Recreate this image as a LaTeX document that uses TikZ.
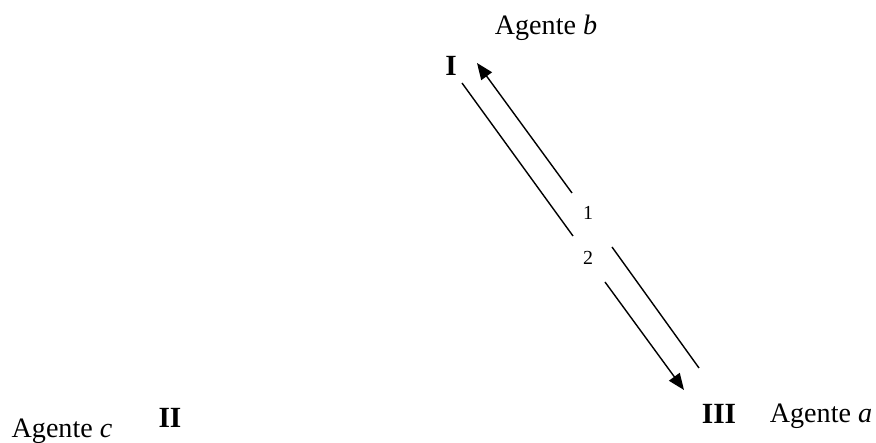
\documentclass[tikz,border=0pt]{standalone}
\usepackage{fontspec}
\setmainfont{Liberation Serif}
\usetikzlibrary{arrows.meta}

\tikzset{
  agent/.style={inner sep=0pt,font=\fontsize{12}{14}\selectfont},
  roman/.style={inner sep=0pt,font=\fontsize{12.5}{14}\selectfont\bfseries},
  step label/.style={inner sep=0pt,font=\fontsize{8.5}{10}\selectfont},
  msg/.style={line width=0.6pt}
}

\begin{document}
\begin{tikzpicture}[x=0.015cm,y=-0.015cm,>={Triangle[length=7pt,width=5.6pt]}]
  \useasboundingbox (0,0) rectangle (876,443);
  % the three agents and their positions
  \node[agent] (agb) at (546,28) {Agente \textit{b}};
  \node[roman] (posI) at (451,66) {I};
  \node[roman] (posII) at (170,418) {II};
  \node[agent] (agc) at (62,431) {Agente \textit{c}};
  \node[roman] (posIII) at (719,414) {III};
  \node[agent] (aga) at (821,416) {Agente \textit{a}};
  % message numbers in the gap of the two lines
  \node[step label] (m1) at (588,213) {1};
  \node[step label] (m2) at (588,258) {2};
  % end points of the two broken lines
  \coordinate (o1) at (699,368);
  \coordinate (g1a) at (612,247);
  \coordinate (g1b) at (572,193);
  \coordinate (e1) at (477,63);
  \coordinate (o2) at (462,83);
  \coordinate (g2a) at (573,236);
  \coordinate (g2b) at (605,282);
  \coordinate (e2) at (684,390);
  % message 1: from III up to I
  \draw[msg] (o1) -- (g1a);
  \draw[msg,->] (g1b) -- (e1);
  % message 2: from I down to III
  \draw[msg] (o2) -- (g2a);
  \draw[msg,->] (g2b) -- (e2);
\end{tikzpicture}
\end{document}
